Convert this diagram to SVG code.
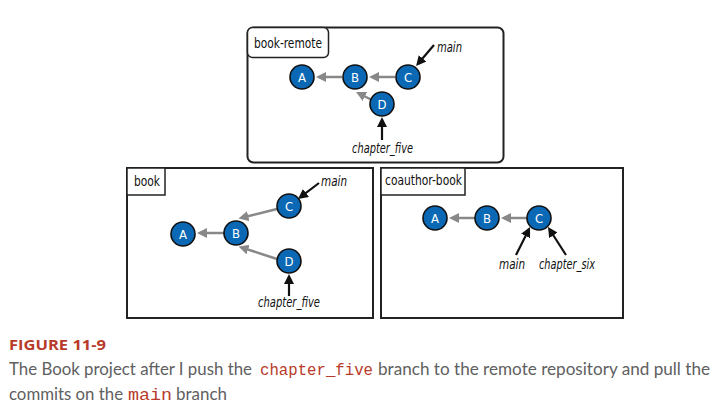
<svg xmlns="http://www.w3.org/2000/svg" width="724" height="416" viewBox="0 0 724 416">
<style>
.frame{fill:#fff;stroke:#222;stroke-width:2}
.tag{fill:#fff;stroke:#222;stroke-width:1.5}
.tagtxt{font-family:"DejaVu Sans Condensed","DejaVu Sans",sans-serif;font-stretch:condensed;font-size:14px;fill:#111}
.commit circle{fill:#0a68b4;stroke:#111;stroke-width:1.6}
.commit text{font-family:"DejaVu Sans Condensed","DejaVu Sans",sans-serif;font-stretch:condensed;font-size:13px;fill:#fff;text-anchor:middle}
.parent{stroke:#888;stroke-width:2.5;fill:none;marker-end:url(#gh)}
.ref{stroke:#111;stroke-width:2.2;fill:none;marker-end:url(#bh)}
.lbl{font-family:"DejaVu Sans Condensed","DejaVu Sans",sans-serif;font-stretch:condensed;font-style:italic;font-size:14px;fill:#111}
.cap{font-family:Lato,"Open Sans",sans-serif;font-size:17px;fill:#606060}
.code{font-family:"Liberation Mono",monospace;font-size:16px;fill:#b83a2a}
.fig{font-family:"Open Sans",sans-serif;font-weight:bold;font-size:15px;fill:#b83a2a}
</style>
<defs>
<marker id="gh" viewBox="0 0 10 10" markerUnits="userSpaceOnUse" markerWidth="10" markerHeight="10" refX="7" refY="5" orient="auto"><path d="M0,0L10,5L0,10z" fill="#888"/></marker>
<marker id="bh" viewBox="0 0 10 10" markerUnits="userSpaceOnUse" markerWidth="10" markerHeight="10" refX="7" refY="5" orient="auto"><path d="M0,0L10,5L0,10z" fill="#111"/></marker>
</defs>

<g id="repo-book-remote">
<rect class="frame" x="247.5" y="27.5" width="256" height="135" rx="6"/>
<rect class="tag" x="247.5" y="27.5" width="81" height="30" rx="5"/>
<text class="tagtxt" x="254" y="48" textLength="68" lengthAdjust="spacingAndGlyphs">book-remote</text>
</g>
<g id="repo-book">
<rect class="frame" x="127" y="168" width="246" height="150"/>
<rect class="tag" x="127" y="168" width="38" height="27"/>
<text class="tagtxt" x="134" y="186" textLength="26" lengthAdjust="spacingAndGlyphs">book</text>
</g>
<g id="repo-coauthor-book">
<rect class="frame" x="381" y="168" width="242" height="150"/>
<rect class="tag" x="381" y="168" width="84" height="27"/>
<text class="tagtxt" x="385" y="185" textLength="77" lengthAdjust="spacingAndGlyphs">coauthor-book</text>
</g>

<g id="connectors">
<line class="parent" x1="342" y1="77" x2="319" y2="77"/>
<line class="parent" x1="395" y1="77" x2="372" y2="77"/>
<line class="parent" x1="372" y1="100" x2="358.7" y2="93.3"/>
<line class="ref" x1="434" y1="45" x2="418" y2="63.7"/>
<line class="ref" x1="382" y1="140" x2="382" y2="120"/>

<line class="parent" x1="224" y1="233" x2="200" y2="233"/>
<line class="parent" x1="277" y1="209" x2="241.4" y2="217.8"/>
<line class="parent" x1="277" y1="259" x2="241.4" y2="247.4"/>
<line class="ref" x1="319" y1="183" x2="300.4" y2="197.2"/>
<line class="ref" x1="289" y1="296" x2="289" y2="277"/>

<line class="parent" x1="475" y1="218" x2="452" y2="218"/>
<line class="parent" x1="527" y1="218" x2="504" y2="218"/>
<line class="ref" x1="516" y1="255" x2="528.7" y2="229.7"/>
<line class="ref" x1="566" y1="255" x2="549.6" y2="229.5"/>
</g>

<g id="remote-A" class="commit"><circle cx="302" cy="77" r="12"/><text x="302" y="81.5">A</text></g>
<g id="remote-B" class="commit"><circle cx="355" cy="77" r="12"/><text x="355" y="81.5">B</text></g>
<g id="remote-C" class="commit"><circle cx="408" cy="77" r="12"/><text x="408" y="81.5">C</text></g>
<g id="remote-D" class="commit"><circle cx="382" cy="104" r="12"/><text x="382" y="108.5">D</text></g>
<g id="remote-main"><text class="lbl" x="437" y="52" textLength="25" lengthAdjust="spacingAndGlyphs">main</text></g>
<g id="remote-chapter_five"><text class="lbl" x="352" y="153" textLength="61" lengthAdjust="spacingAndGlyphs">chapter_five</text></g>

<g id="book-A" class="commit"><circle cx="183" cy="234" r="12"/><text x="183" y="238.5">A</text></g>
<g id="book-B" class="commit"><circle cx="236" cy="233" r="12"/><text x="236" y="237.5">B</text></g>
<g id="book-C" class="commit"><circle cx="289" cy="206" r="12"/><text x="289" y="210.5">C</text></g>
<g id="book-D" class="commit"><circle cx="289" cy="261" r="12"/><text x="289" y="265.5">D</text></g>
<g id="book-main"><text class="lbl" x="321" y="186" textLength="26" lengthAdjust="spacingAndGlyphs">main</text></g>
<g id="book-chapter_five"><text class="lbl" x="258" y="307" textLength="62" lengthAdjust="spacingAndGlyphs">chapter_five</text></g>

<g id="coauthor-A" class="commit"><circle cx="435" cy="218" r="12"/><text x="435" y="222.5">A</text></g>
<g id="coauthor-B" class="commit"><circle cx="487" cy="218" r="12"/><text x="487" y="222.5">B</text></g>
<g id="coauthor-C" class="commit"><circle cx="539" cy="218" r="12"/><text x="539" y="222.5">C</text></g>
<g id="coauthor-main"><text class="lbl" x="499" y="269" textLength="26" lengthAdjust="spacingAndGlyphs">main</text></g>
<g id="coauthor-chapter_six"><text class="lbl" x="539" y="269" textLength="56" lengthAdjust="spacingAndGlyphs">chapter_six</text></g>

<g id="caption">
<text class="fig" x="9" y="350" textLength="97" lengthAdjust="spacingAndGlyphs">FIGURE 11-9</text>
<text class="cap" x="9" y="375" textLength="243" lengthAdjust="spacingAndGlyphs">The Book project after I push the</text>
<text class="code" x="260" y="375" textLength="113" lengthAdjust="spacingAndGlyphs">chapter_five</text>
<text class="cap" x="378" y="375" textLength="332" lengthAdjust="spacingAndGlyphs">branch to the remote repository and pull the</text>
<text class="cap" x="9" y="400" textLength="114" lengthAdjust="spacingAndGlyphs">commits on the</text>
<text class="code" x="128" y="400" textLength="44" lengthAdjust="spacingAndGlyphs">main</text>
<text class="cap" x="176" y="400" textLength="51" lengthAdjust="spacingAndGlyphs">branch</text>
</g>
</svg>
